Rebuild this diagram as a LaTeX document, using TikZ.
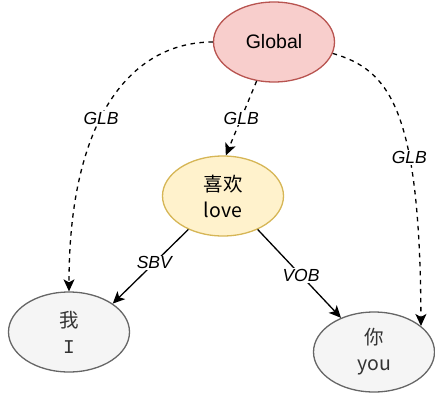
\documentclass[tikz,border=0pt]{standalone}
\usepackage{fontspec}
\setmainfont{Liberation Sans}
\newfontfamily\cjk{Noto Sans CJK SC}
\newfontfamily\monoI{Liberation Mono}
\usetikzlibrary{arrows.meta,shapes.geometric}
\definecolor{redfill}{HTML}{F8CECC}
\definecolor{reddraw}{HTML}{B85450}
\definecolor{yelfill}{HTML}{FFF2CC}
\definecolor{yeldraw}{HTML}{D6B656}
\definecolor{grayfill}{HTML}{F5F5F5}
\definecolor{graydraw}{HTML}{666666}
\definecolor{graytext}{HTML}{333333}
\tikzset{
  ell/.style={ellipse, minimum width=121pt, minimum height=80pt, inner sep=0pt, line width=1.3pt, align=center, font=\fontsize{19.5}{26}\selectfont},
  glob/.style={ell, fill=redfill, draw=reddraw},
  verb/.style={ell, fill=yelfill, draw=yeldraw, font=\cjk\fontsize{19.5}{26}\selectfont},
  word/.style={ell, fill=grayfill, draw=graydraw, text=graytext, font=\cjk\fontsize{19.5}{26}\selectfont},
  edge/.style={line width=1.3pt, -{Stealth[length=12pt,width=11pt,inset=3pt]}},
  dashedge/.style={edge, dash pattern=on 4.5pt off 4.5pt},
  lab/.style={fill=white, inner sep=1pt, font=\itshape\fontsize{17.5}{20}\selectfont}
}
\begin{document}
\begin{tikzpicture}[x=1pt,y=-1pt]
\useasboundingbox (0,0) rectangle (435,396);
\node[glob] (global) at (274,42) {Global};
\node[verb] (love) at (223,196) {喜欢\\love};
\node[word] (wo) at (69,332) {我\\{\monoI I}};
\node[word] (ni) at (374,352) {你\\you};

\draw[dashedge] (global.west) .. controls (130,42) and (69,120) .. (wo.north)
  node[lab, pos=0.56] {GLB};
\draw[dashedge] (global.246) -- (love.86) node[lab, midway] {GLB};
\draw[dashedge] (global.-11) .. controls (390,70) and (420,110) .. (ni.29)
  node[lab, pos=0.65] {GLB};
\draw[edge] (love.224) -- (wo.33) node[lab, pos=0.45] {SBV};
\draw[edge] (love.316) -- (ni.134) node[lab, pos=0.52] {VOB};
\end{tikzpicture}
\end{document}
